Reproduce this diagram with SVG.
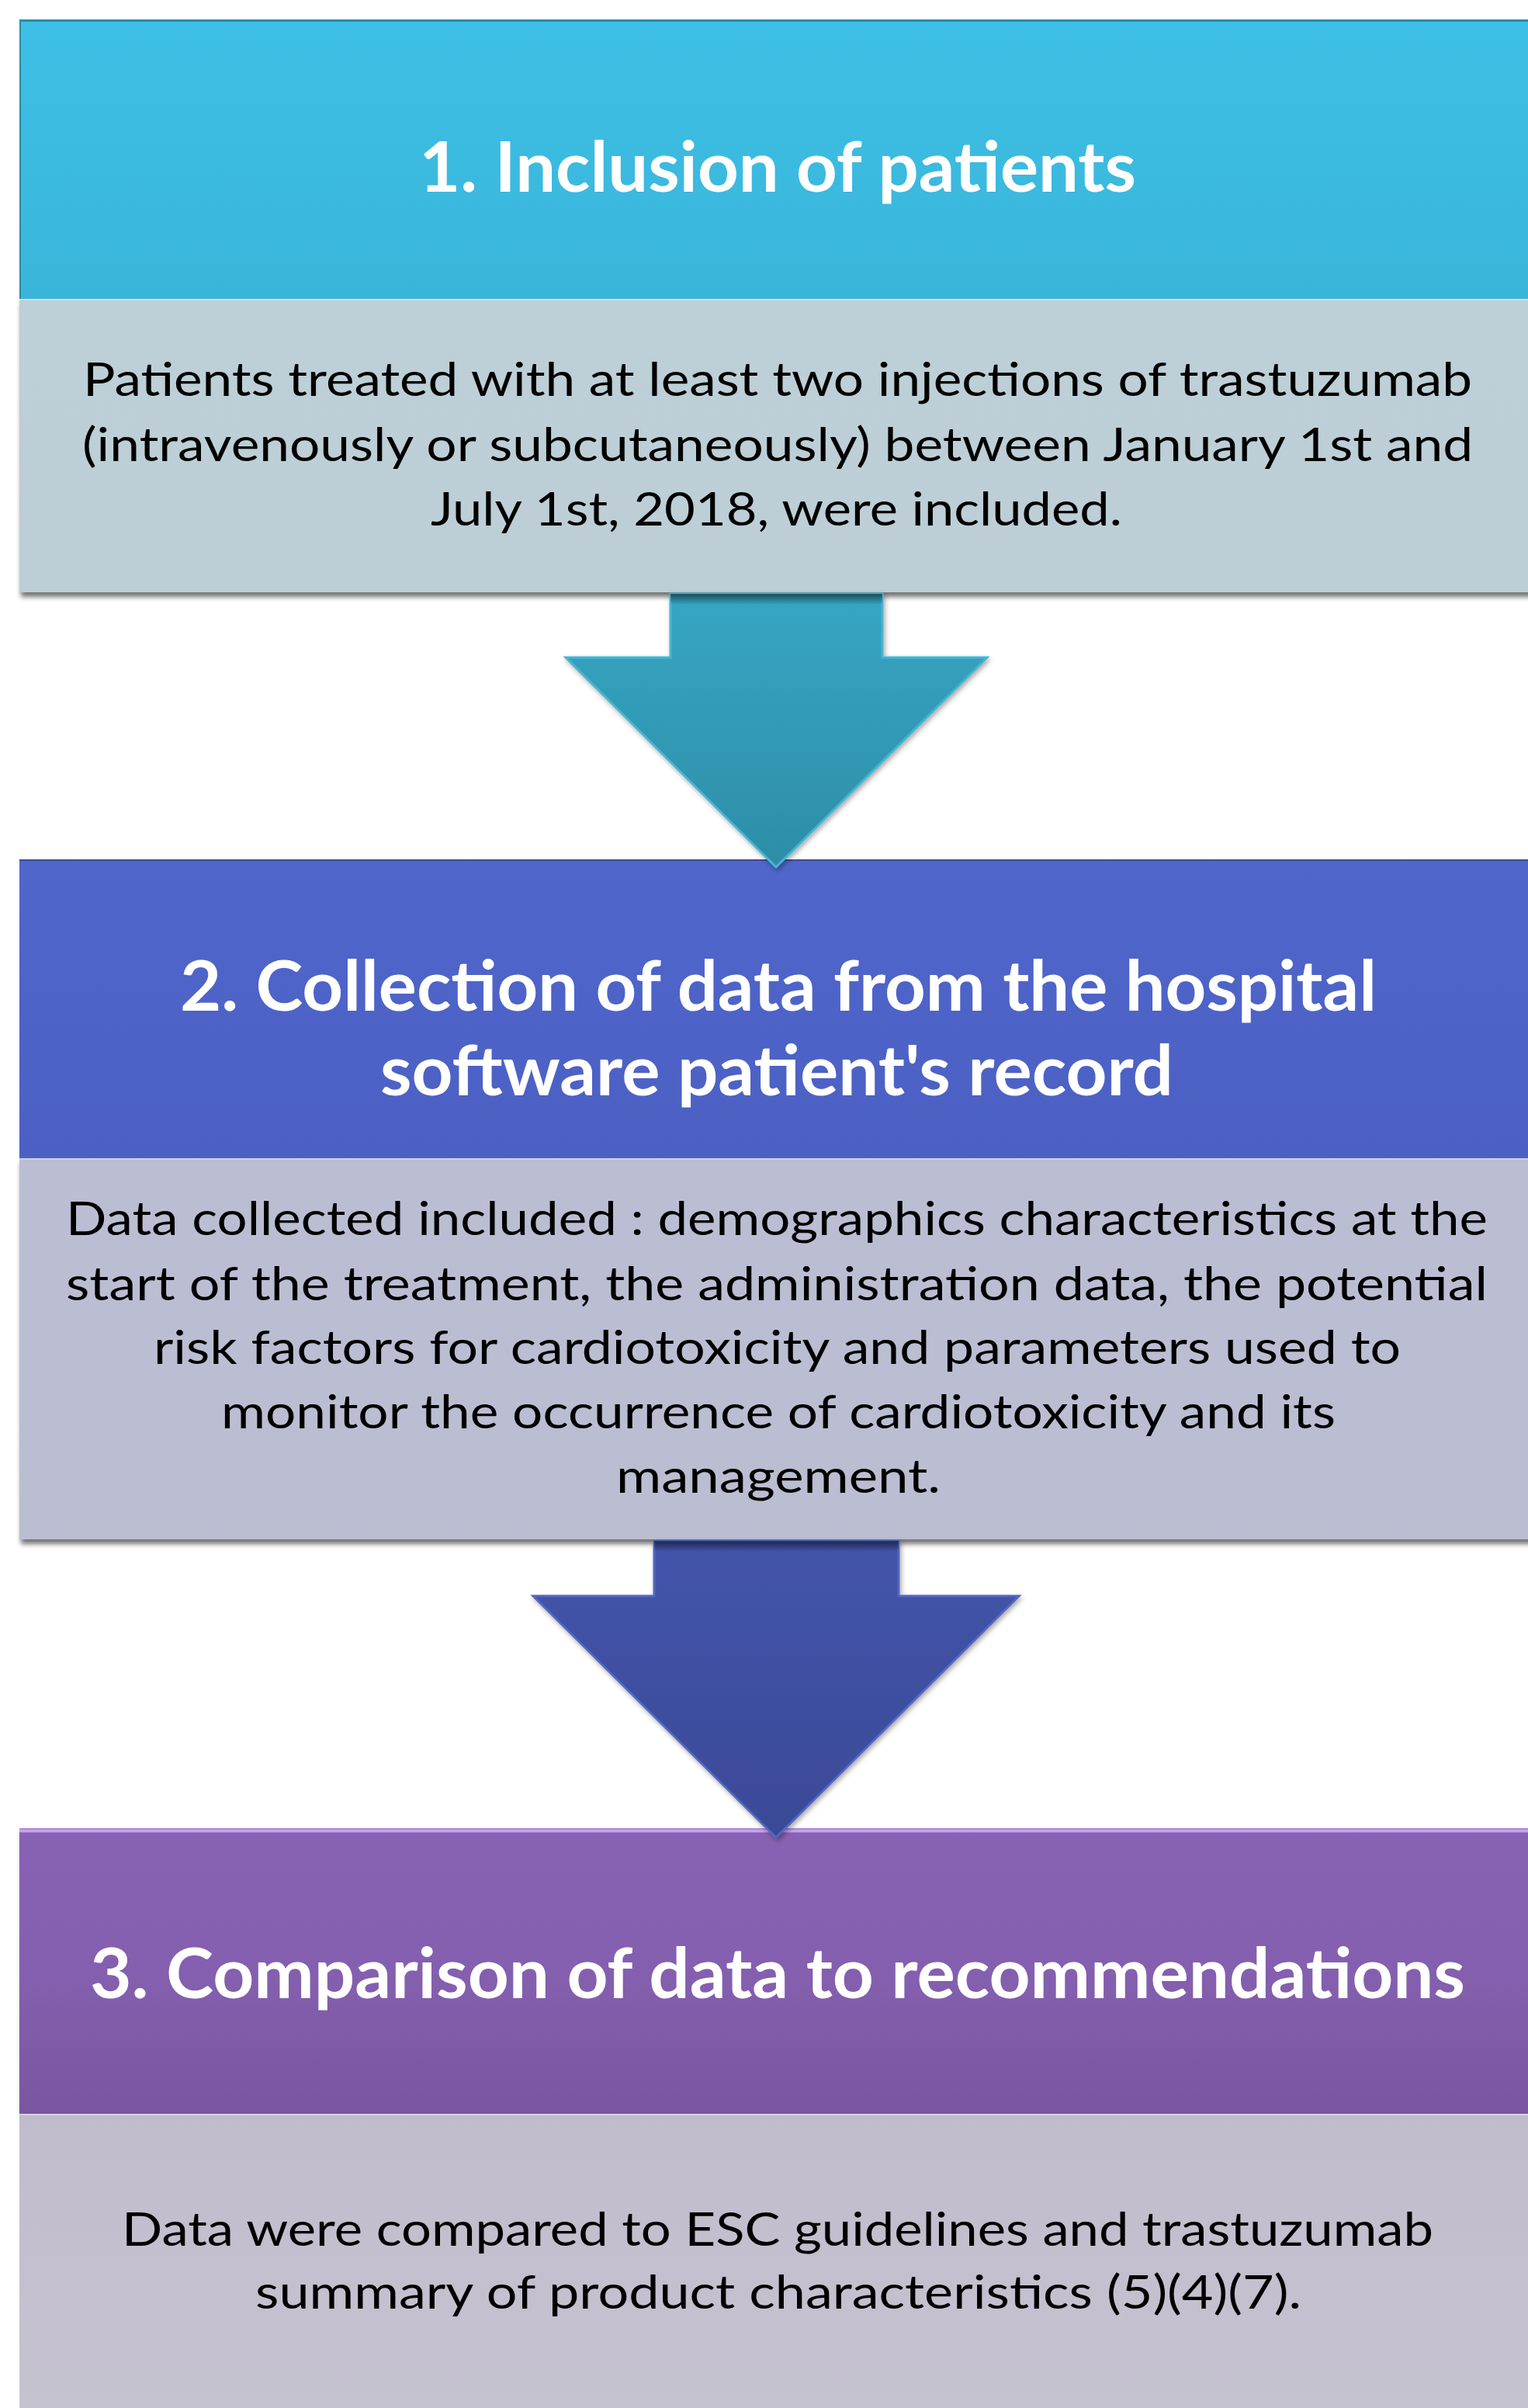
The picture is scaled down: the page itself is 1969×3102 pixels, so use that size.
<svg xmlns="http://www.w3.org/2000/svg" width="1969" height="3102" viewBox="0 0 1969 3102">
  <style>
    .title { font-family: Lato, "Open Sans", "Liberation Sans", sans-serif; font-weight: 700; font-size: 89px; fill: #ffffff; }
    .body { font-family: Lato, "Open Sans", "Liberation Sans", sans-serif; font-weight: 400; font-size: 60px; fill: #000000; }
    .edge { fill: none; stroke-width: 2; }
  </style>
  <defs>
    <linearGradient id="h1" x1="0" y1="0" x2="0" y2="1">
      <stop offset="0" stop-color="#3DC0E5"/>
      <stop offset="1" stop-color="#3AB5DA"/>
    </linearGradient>
    <linearGradient id="b1" x1="0" y1="0" x2="0" y2="1">
      <stop offset="0" stop-color="#BDCFD7"/>
      <stop offset="1" stop-color="#BDCED6"/>
    </linearGradient>
    <linearGradient id="h2" x1="0" y1="0" x2="0" y2="1">
      <stop offset="0" stop-color="#5066CA"/>
      <stop offset="1" stop-color="#4C60C4"/>
    </linearGradient>
    <linearGradient id="b2" x1="0" y1="0" x2="0" y2="1">
      <stop offset="0" stop-color="#BBBED3"/>
      <stop offset="1" stop-color="#BBBED1"/>
    </linearGradient>
    <linearGradient id="h3" x1="0" y1="0" x2="0" y2="1">
      <stop offset="0" stop-color="#8862B4"/>
      <stop offset="0.5" stop-color="#845FAF"/>
      <stop offset="1" stop-color="#7A56A0"/>
    </linearGradient>
    <linearGradient id="b3" x1="0" y1="0" x2="0" y2="1">
      <stop offset="0" stop-color="#C1BCCC"/>
      <stop offset="1" stop-color="#C6C3D1"/>
    </linearGradient>
    <linearGradient id="a1" x1="0" y1="0" x2="0" y2="1">
      <stop offset="0" stop-color="#36A6C4"/>
      <stop offset="1" stop-color="#2E8DA7"/>
    </linearGradient>
    <linearGradient id="a2" x1="0" y1="0" x2="0" y2="1">
      <stop offset="0" stop-color="#4354AB"/>
      <stop offset="1" stop-color="#3A4A96"/>
    </linearGradient>
    <linearGradient id="shaftShade" x1="0" y1="0" x2="0" y2="1">
      <stop offset="0" stop-color="#000000" stop-opacity="0.55"/>
      <stop offset="1" stop-color="#000000" stop-opacity="0"/>
    </linearGradient>
    <filter id="shadow" x="-5%" y="-10%" width="110%" height="130%">
      <feDropShadow dx="2" dy="6" stdDeviation="3" flood-color="#000000" flood-opacity="0.55"/>
    </filter>
    <filter id="ashadow" x="-10%" y="-10%" width="120%" height="120%">
      <feDropShadow dx="2" dy="3" stdDeviation="3" flood-color="#000000" flood-opacity="0.35"/>
    </filter>
  </defs>

  <rect width="1969" height="3102" fill="#ffffff"/>

  <!-- Node 3 -->
  <g id="node3">
    <rect x="25" y="2356" width="1960" height="367" fill="url(#h3)" filter="url(#ashadow)"/>
    <line x1="25" y1="2358" x2="1969" y2="2358" stroke="#C9A2F2" stroke-width="5"/>
    <line x1="25" y1="2356" x2="1969" y2="2356" stroke="#9A82B8" stroke-width="1.5"/>
    <rect x="25" y="2723" width="1960" height="390" fill="url(#b3)"/>
    <line x1="25" y1="2724" x2="1969" y2="2724" stroke="#D6D2E0" stroke-width="2"/>
    <text class="title" x="116" y="2574" textLength="1772" lengthAdjust="spacingAndGlyphs">3. Comparison of data to recommendations</text>
    <text class="body" x="157" y="2893" textLength="1690" lengthAdjust="spacingAndGlyphs">Data were compared to ESC guidelines and trastuzumab</text>
    <text class="body" x="329" y="2974" textLength="1348" lengthAdjust="spacingAndGlyphs">summary of product characteristics (5)(4)(7).</text>
  </g>

  <!-- Node 2 -->
  <g id="node2">
    <rect x="25" y="1107" width="1960" height="385" fill="url(#h2)"/>
    <line x1="25" y1="1108" x2="1969" y2="1108" stroke="#3E4C92" stroke-width="2"/>
    <rect x="25" y="1492" width="1960" height="491" fill="url(#b2)" filter="url(#shadow)"/>
    <line x1="25" y1="1493" x2="1969" y2="1493" stroke="#CDD0E0" stroke-width="2"/>
    <text class="title" x="232" y="1302" textLength="1542" lengthAdjust="spacingAndGlyphs">2. Collection of data from the hospital</text>
    <text class="title" x="490" y="1411" textLength="1022" lengthAdjust="spacingAndGlyphs">software patient's record</text>
    <text class="body" x="85" y="1591" textLength="1832" lengthAdjust="spacingAndGlyphs">Data collected included : demographics characteristics at the</text>
    <text class="body" x="85" y="1675" textLength="1832" lengthAdjust="spacingAndGlyphs">start of the treatment, the administration data, the potential</text>
    <text class="body" x="198" y="1757" textLength="1607" lengthAdjust="spacingAndGlyphs">risk factors for cardiotoxicity  and parameters used to</text>
    <text class="body" x="285" y="1840" textLength="1436" lengthAdjust="spacingAndGlyphs">monitor the occurrence of cardiotoxicity and its</text>
    <text class="body" x="794" y="1923" textLength="418" lengthAdjust="spacingAndGlyphs">management.</text>
  </g>

  <!-- Node 1 -->
  <g id="node1">
    <rect x="25" y="25" width="1960" height="360" fill="url(#h1)"/>
    <line x1="25" y1="26.5" x2="1969" y2="26.5" stroke="#2E8AA6" stroke-width="3"/>
    <line x1="26" y1="25" x2="26" y2="385" stroke="#2E8AA6" stroke-width="2"/>
    <rect x="25" y="385" width="1960" height="378" fill="url(#b1)" filter="url(#shadow)"/>
    <line x1="25" y1="386" x2="1969" y2="386" stroke="#D2E0E6" stroke-width="2"/>
    <text class="title" x="540" y="247" textLength="924" lengthAdjust="spacingAndGlyphs">1. Inclusion of patients</text>
    <text class="body" x="107" y="510" textLength="1790" lengthAdjust="spacingAndGlyphs">Patients treated with at least two injections of trastuzumab</text>
    <text class="body" x="106" y="594" textLength="1792" lengthAdjust="spacingAndGlyphs">(intravenously or subcutaneously) between January 1st and</text>
    <text class="body" x="555" y="677" textLength="891" lengthAdjust="spacingAndGlyphs">July 1st, 2018, were included.</text>
  </g>

  <!-- Connectors -->
  <g id="connectors">
    <g id="arrow1" filter="url(#ashadow)">
      <path d="M864,765 L1137,765 L1137,847 L1272,847 L1000,1117 L729,847 L864,847 Z" fill="url(#a1)" stroke="#45B6D4" stroke-width="3" stroke-linejoin="miter"/>
      <rect x="864" y="765" width="273" height="14" fill="url(#shaftShade)"/>
    </g>
    <g id="arrow2" filter="url(#ashadow)">
      <path d="M843,1985 L1158,1985 L1158,2056 L1313,2056 L1000,2367 L687,2056 L843,2056 Z" fill="url(#a2)" stroke="#5366C0" stroke-width="3" stroke-linejoin="miter"/>
      <rect x="843" y="1985" width="315" height="14" fill="url(#shaftShade)"/>
    </g>
  </g>
</svg>
